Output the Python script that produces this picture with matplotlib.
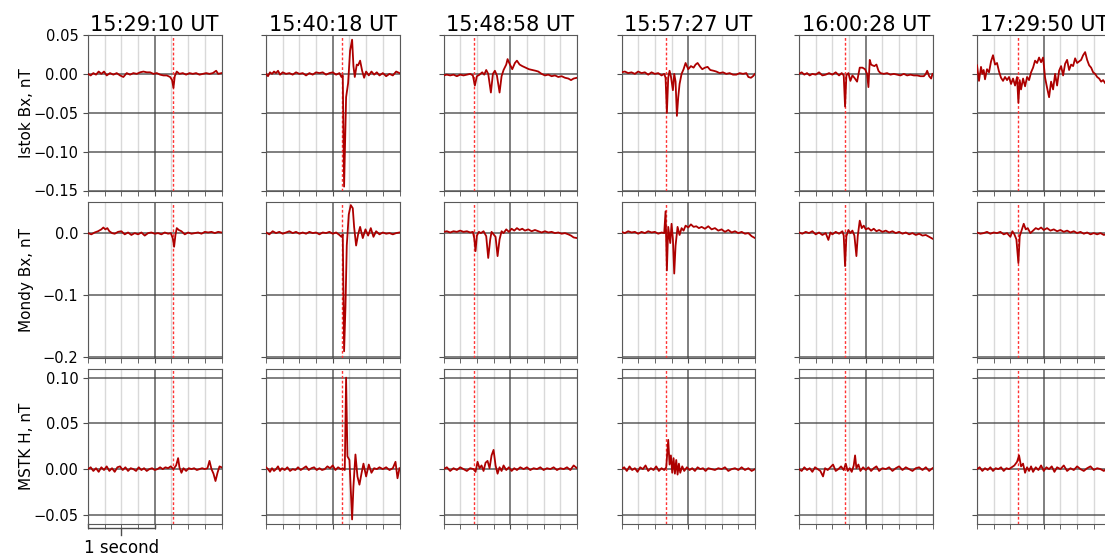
import matplotlib
matplotlib.use("Agg")
import matplotlib.pyplot as plt
import numpy as np

# event titles and event (dashed line) times, seconds from window start
titles = ["15:29:10 UT", "15:40:18 UT", "15:48:58 UT", "15:57:27 UT", "16:00:28 UT", "17:29:50 UT"]
event_t = [1.28, 1.135, 0.46, 0.67, 0.69, 0.61]

row_labels = ["Istok Bx, nT", "Mondy Bx, nT", "MSTK H, nT"]
row_ylim = [(-0.15, 0.05), (-0.2, 0.05), (-0.06, 0.11)]
row_yticks = [[-0.15, -0.10, -0.05, 0.00, 0.05], [-0.2, -0.1, 0.0], [-0.05, 0.00, 0.05, 0.10]]
row_fmt = ["{:.2f}", "{:.1f}", "{:.2f}"]

# ---- Istok Bx, (t [s], value [nT])
istok_1529 = [(0.00, 0.000), (0.04, -0.002), (0.08, 0.001), (0.12, -0.001), (0.16, 0.003), (0.20, 0.000),
              (0.24, 0.003), (0.28, -0.002), (0.33, 0.001), (0.38, -0.001), (0.43, 0.001), (0.48, -0.002),
              (0.53, -0.004), (0.58, 0.001), (0.63, -0.001), (0.68, 0.001), (0.73, 0.000), (0.78, 0.002),
              (0.83, 0.003), (0.88, 0.002), (0.93, 0.002), (0.98, 0.000), (1.03, 0.001), (1.08, -0.001),
              (1.13, -0.002), (1.18, -0.002), (1.23, -0.004), (1.26, -0.008), (1.28, -0.018), (1.30, -0.003),
              (1.33, 0.003), (1.37, 0.000), (1.42, 0.001), (1.47, -0.001), (1.52, 0.001), (1.57, 0.000),
              (1.62, 0.001), (1.67, -0.001), (1.72, 0.000), (1.77, 0.001), (1.82, 0.000), (1.87, 0.001),
              (1.92, 0.004), (1.95, 0.000), (2.00, 0.001)]
istok_1540 = [(0.00, 0.000), (0.03, -0.003), (0.06, 0.002), (0.09, 0.000), (0.12, 0.003), (0.15, 0.001),
              (0.18, 0.004), (0.21, -0.001), (0.25, 0.002), (0.30, 0.000), (0.35, 0.001), (0.40, -0.001),
              (0.45, 0.002), (0.50, 0.000), (0.55, 0.001), (0.60, -0.002), (0.65, 0.001), (0.70, -0.001),
              (0.75, 0.002), (0.80, 0.001), (0.85, 0.002), (0.90, -0.001), (0.95, 0.001), (1.00, 0.002),
              (1.05, -0.001), (1.10, 0.001), (1.13, -0.004), (1.15, -0.002), (1.17, -0.145), (1.20, -0.030),
              (1.23, -0.012), (1.26, 0.030), (1.29, 0.044), (1.31, 0.010), (1.33, -0.004), (1.36, 0.012),
              (1.38, 0.011), (1.41, 0.017), (1.44, 0.004), (1.47, -0.005), (1.50, 0.003), (1.54, -0.002),
              (1.58, 0.003), (1.62, -0.001), (1.66, 0.002), (1.70, -0.002), (1.75, 0.001), (1.80, -0.003),
              (1.85, 0.000), (1.90, -0.002), (1.95, 0.003), (2.00, 0.001)]
istok_1548 = [(0.00, -0.002), (0.05, -0.001), (0.10, -0.002), (0.15, -0.001), (0.20, -0.003), (0.25, -0.001),
              (0.30, -0.002), (0.35, -0.001), (0.40, 0.000), (0.44, -0.002), (0.47, -0.015), (0.50, -0.003),
              (0.54, -0.001), (0.58, 0.002), (0.61, -0.001), (0.64, 0.005), (0.67, 0.000), (0.71, -0.024),
              (0.74, 0.000), (0.77, 0.004), (0.80, -0.002), (0.84, -0.024), (0.87, -0.003), (0.90, 0.005),
              (0.94, 0.012), (0.96, 0.019), (0.99, 0.013), (1.03, 0.006), (1.07, 0.014), (1.10, 0.017),
              (1.14, 0.012), (1.18, 0.010), (1.23, 0.008), (1.28, 0.006), (1.33, 0.005), (1.38, 0.004),
              (1.42, 0.003), (1.47, 0.000), (1.52, -0.002), (1.57, -0.001), (1.62, -0.003), (1.67, -0.002),
              (1.72, -0.004), (1.77, -0.003), (1.82, -0.005), (1.87, -0.006), (1.91, -0.008), (1.95, -0.006),
              (2.00, -0.005)]
istok_1557 = [(0.00, 0.002), (0.05, 0.003), (0.10, 0.001), (0.15, 0.002), (0.20, 0.000), (0.25, 0.003),
              (0.30, 0.001), (0.35, 0.002), (0.40, -0.001), (0.45, 0.002), (0.50, 0.000), (0.55, 0.001),
              (0.60, -0.002), (0.64, 0.000), (0.66, -0.005), (0.68, -0.050), (0.70, -0.005), (0.72, 0.004),
              (0.74, -0.003), (0.77, -0.021), (0.79, 0.000), (0.81, -0.010), (0.83, -0.054), (0.85, -0.030),
              (0.87, -0.013), (0.90, 0.000), (0.93, 0.006), (0.96, 0.014), (1.00, 0.006), (1.04, 0.010),
              (1.08, 0.008), (1.11, 0.012), (1.14, 0.014), (1.18, 0.009), (1.21, 0.006), (1.25, 0.008),
              (1.29, 0.009), (1.33, 0.005), (1.38, 0.004), (1.42, 0.003), (1.47, 0.001), (1.52, 0.002),
              (1.57, 0.000), (1.62, 0.001), (1.67, -0.001), (1.72, -0.001), (1.77, 0.001), (1.82, 0.000),
              (1.87, 0.001), (1.90, -0.004), (1.94, -0.005), (1.97, -0.003), (2.00, 0.000)]
istok_1600 = [(0.00, 0.000), (0.04, 0.002), (0.08, -0.001), (0.12, 0.001), (0.16, -0.002), (0.20, 0.000),
              (0.25, -0.001), (0.30, 0.002), (0.35, -0.002), (0.40, -0.001), (0.45, 0.001), (0.50, -0.001),
              (0.55, 0.002), (0.60, -0.002), (0.64, 0.001), (0.67, -0.002), (0.69, -0.042), (0.71, -0.002),
              (0.74, 0.001), (0.77, -0.009), (0.80, -0.002), (0.83, -0.005), (0.87, -0.010), (0.91, 0.008),
              (0.95, 0.008), (0.99, 0.006), (1.02, 0.000), (1.04, -0.017), (1.06, 0.018), (1.08, 0.012),
              (1.10, 0.011), (1.13, 0.010), (1.16, 0.012), (1.19, 0.004), (1.22, 0.001), (1.27, 0.000),
              (1.32, 0.001), (1.37, -0.001), (1.42, 0.000), (1.47, -0.001), (1.52, -0.002), (1.57, 0.000),
              (1.62, -0.002), (1.67, -0.001), (1.72, -0.002), (1.77, -0.002), (1.82, -0.003), (1.87, -0.003),
              (1.90, 0.000), (1.92, 0.004), (1.95, -0.003), (1.98, -0.006), (2.00, 0.000)]
istok_1729 = [(0.00, 0.011), (0.03, -0.009), (0.06, 0.009), (0.08, 0.000), (0.10, 0.005), (0.12, -0.007),
              (0.15, 0.006), (0.18, 0.002), (0.21, 0.016), (0.24, 0.024), (0.27, 0.012), (0.30, 0.014),
              (0.33, 0.003), (0.36, -0.005), (0.39, -0.009), (0.42, -0.004), (0.45, -0.008), (0.48, -0.004),
              (0.51, -0.013), (0.54, -0.006), (0.57, -0.015), (0.60, -0.004), (0.62, -0.037), (0.64, -0.008),
              (0.66, -0.020), (0.69, -0.006), (0.72, -0.016), (0.75, -0.004), (0.78, -0.008), (0.81, 0.002),
              (0.84, 0.008), (0.87, 0.017), (0.90, 0.014), (0.93, 0.021), (0.96, 0.015), (0.99, 0.021),
              (1.02, -0.005), (1.05, -0.018), (1.08, -0.030), (1.11, -0.010), (1.14, -0.020), (1.17, 0.000),
              (1.20, -0.015), (1.23, 0.004), (1.26, 0.010), (1.29, -0.002), (1.32, 0.013), (1.35, 0.018),
              (1.38, 0.005), (1.41, 0.012), (1.44, 0.010), (1.47, 0.020), (1.50, 0.014), (1.53, 0.016),
              (1.56, 0.018), (1.59, 0.024), (1.62, 0.028), (1.65, 0.018), (1.68, 0.011), (1.71, 0.008),
              (1.74, 0.002), (1.77, 0.000), (1.80, -0.004), (1.83, -0.006), (1.86, -0.010), (1.89, -0.008),
              (1.92, -0.012), (1.96, -0.006), (2.00, -0.004)]

# ---- Mondy Bx
mondy_1529 = [(0.00, 0.000), (0.05, -0.002), (0.10, 0.001), (0.15, 0.003), (0.20, 0.006), (0.23, 0.009),
              (0.26, 0.006), (0.29, 0.008), (0.32, 0.003), (0.36, 0.000), (0.40, -0.001), (0.45, 0.002),
              (0.50, 0.003), (0.55, -0.002), (0.60, 0.001), (0.65, -0.003), (0.70, 0.000), (0.75, -0.002),
              (0.80, 0.001), (0.85, -0.004), (0.90, 0.000), (0.95, 0.001), (1.00, -0.001), (1.05, 0.000),
              (1.10, -0.002), (1.15, 0.001), (1.20, -0.001), (1.24, 0.000), (1.27, -0.008), (1.29, -0.022),
              (1.31, -0.003), (1.33, 0.008), (1.36, 0.005), (1.40, 0.003), (1.45, -0.002), (1.50, 0.001),
              (1.55, -0.001), (1.60, 0.000), (1.65, 0.001), (1.70, -0.001), (1.75, 0.002), (1.80, 0.001),
              (1.85, 0.002), (1.90, 0.000), (1.95, 0.002), (2.00, 0.001)]
mondy_1540 = [(0.00, 0.001), (0.05, -0.002), (0.10, 0.003), (0.15, 0.000), (0.20, 0.002), (0.25, -0.001),
              (0.30, 0.001), (0.35, 0.003), (0.40, 0.000), (0.45, 0.002), (0.50, -0.001), (0.55, 0.001),
              (0.60, -0.001), (0.65, 0.002), (0.70, 0.000), (0.75, 0.001), (0.80, -0.002), (0.85, 0.001),
              (0.90, 0.000), (0.95, 0.002), (1.00, -0.001), (1.05, 0.001), (1.10, -0.003), (1.13, -0.006),
              (1.15, -0.002), (1.17, -0.190), (1.19, -0.120), (1.21, -0.020), (1.24, 0.030), (1.27, 0.045),
              (1.30, 0.040), (1.32, 0.010), (1.35, -0.020), (1.38, -0.002), (1.41, 0.010), (1.45, -0.008),
              (1.49, 0.006), (1.53, -0.004), (1.57, 0.008), (1.61, -0.006), (1.65, 0.003), (1.70, -0.002),
              (1.75, 0.001), (1.80, -0.001), (1.85, 0.000), (1.90, -0.002), (1.95, 0.000), (2.00, 0.001)]
mondy_1548 = [(0.00, 0.002), (0.05, 0.003), (0.10, 0.001), (0.15, 0.003), (0.20, 0.002), (0.25, 0.004),
              (0.30, 0.002), (0.35, 0.003), (0.40, 0.001), (0.44, 0.002), (0.46, -0.008), (0.48, -0.029),
              (0.50, -0.004), (0.53, 0.002), (0.56, 0.000), (0.60, 0.003), (0.64, -0.005), (0.67, -0.040),
              (0.70, -0.010), (0.72, 0.002), (0.75, -0.002), (0.78, -0.006), (0.81, -0.037), (0.84, -0.010),
              (0.87, 0.003), (0.90, 0.000), (0.94, 0.006), (0.98, 0.002), (1.02, 0.007), (1.06, 0.004),
              (1.10, 0.008), (1.14, 0.005), (1.18, 0.007), (1.22, 0.004), (1.27, 0.006), (1.32, 0.003),
              (1.37, 0.005), (1.42, 0.003), (1.47, 0.001), (1.52, 0.003), (1.57, 0.001), (1.62, 0.002),
              (1.67, 0.000), (1.72, 0.001), (1.77, -0.001), (1.82, 0.000), (1.87, -0.002), (1.91, -0.004),
              (1.95, -0.007), (2.00, -0.008)]
mondy_1557 = [(0.00, 0.002), (0.05, 0.000), (0.10, 0.003), (0.15, 0.001), (0.20, 0.002), (0.25, -0.001),
              (0.30, 0.002), (0.35, 0.000), (0.40, 0.003), (0.45, 0.001), (0.50, 0.002), (0.55, -0.001),
              (0.60, 0.001), (0.64, 0.000), (0.66, 0.035), (0.68, -0.060), (0.70, 0.010), (0.73, -0.016),
              (0.75, 0.015), (0.77, -0.010), (0.79, -0.065), (0.81, -0.020), (0.84, 0.010), (0.87, -0.003),
              (0.90, 0.008), (0.93, 0.004), (0.96, 0.012), (1.00, 0.009), (1.04, 0.014), (1.08, 0.010),
              (1.12, 0.011), (1.16, 0.008), (1.20, 0.010), (1.25, 0.007), (1.30, 0.011), (1.35, 0.006),
              (1.40, 0.008), (1.45, 0.004), (1.50, 0.006), (1.55, 0.002), (1.60, 0.005), (1.65, 0.001),
              (1.70, 0.003), (1.75, 0.000), (1.80, 0.002), (1.85, -0.001), (1.90, 0.000), (1.95, -0.005),
              (2.00, -0.008)]
mondy_1600 = [(0.00, 0.001), (0.05, -0.001), (0.10, 0.002), (0.15, 0.000), (0.20, 0.003), (0.25, -0.002),
              (0.30, 0.001), (0.35, -0.003), (0.40, 0.000), (0.44, -0.011), (0.47, 0.001), (0.50, -0.002),
              (0.55, 0.002), (0.60, -0.001), (0.65, 0.003), (0.67, -0.004), (0.69, -0.053), (0.71, -0.005),
              (0.74, 0.005), (0.77, 0.000), (0.80, 0.004), (0.83, -0.004), (0.86, -0.037), (0.88, -0.005),
              (0.91, 0.020), (0.94, 0.008), (0.97, 0.012), (1.00, 0.006), (1.04, 0.008), (1.08, 0.004),
              (1.12, 0.007), (1.16, 0.003), (1.20, 0.005), (1.25, 0.002), (1.30, 0.004), (1.35, 0.001),
              (1.40, 0.003), (1.45, 0.000), (1.50, 0.002), (1.55, -0.001), (1.60, 0.001), (1.65, -0.002),
              (1.70, 0.000), (1.75, -0.003), (1.80, -0.001), (1.85, -0.004), (1.90, -0.003), (1.95, -0.006),
              (2.00, -0.009)]
mondy_1729 = [(0.00, 0.001), (0.05, -0.001), (0.10, 0.000), (0.15, 0.002), (0.20, -0.001), (0.25, 0.001),
              (0.30, 0.000), (0.35, 0.002), (0.40, -0.002), (0.45, 0.000), (0.50, -0.006), (0.53, 0.003),
              (0.56, -0.002), (0.59, -0.010), (0.62, -0.048), (0.64, -0.005), (0.67, 0.005), (0.70, 0.015),
              (0.73, 0.006), (0.76, 0.008), (0.80, 0.000), (0.84, 0.004), (0.88, 0.008), (0.92, 0.006),
              (0.96, 0.009), (1.00, 0.005), (1.05, 0.008), (1.10, 0.004), (1.15, 0.006), (1.20, 0.003),
              (1.25, 0.005), (1.30, 0.002), (1.35, 0.004), (1.40, 0.001), (1.45, 0.003), (1.50, 0.000),
              (1.55, 0.002), (1.60, -0.001), (1.65, 0.001), (1.70, -0.002), (1.75, 0.000), (1.80, -0.002),
              (1.85, 0.000), (1.90, -0.003), (1.95, -0.001), (2.00, -0.002)]

# ---- MSTK H
mstk_1529 = [(0.00, 0.000), (0.04, 0.002), (0.08, -0.002), (0.12, 0.001), (0.16, -0.003), (0.20, 0.002),
             (0.24, -0.001), (0.28, 0.003), (0.32, -0.002), (0.36, 0.001), (0.40, -0.003), (0.44, 0.002),
             (0.48, 0.003), (0.52, -0.001), (0.56, 0.002), (0.60, -0.002), (0.64, 0.001), (0.68, 0.000),
             (0.72, -0.002), (0.76, 0.002), (0.80, -0.001), (0.84, 0.001), (0.88, -0.002), (0.92, 0.000),
             (0.96, 0.001), (1.00, -0.001), (1.04, 0.000), (1.08, 0.002), (1.12, 0.000), (1.16, 0.002),
             (1.20, 0.001), (1.24, 0.003), (1.28, 0.000), (1.32, 0.004), (1.35, 0.012), (1.37, 0.002),
             (1.40, -0.004), (1.43, 0.001), (1.47, -0.002), (1.51, 0.001), (1.55, 0.000), (1.59, 0.001),
             (1.63, -0.001), (1.67, 0.000), (1.71, 0.001), (1.75, 0.000), (1.79, 0.001), (1.82, 0.009),
             (1.85, 0.000), (1.88, -0.005), (1.91, -0.013), (1.94, -0.004), (1.97, 0.003), (2.00, 0.002)]
mstk_1540 = [(0.00, 0.002), (0.03, 0.000), (0.06, -0.003), (0.09, 0.001), (0.12, -0.002), (0.15, 0.000),
             (0.18, 0.003), (0.21, -0.002), (0.24, 0.001), (0.28, -0.001), (0.32, 0.002), (0.36, -0.002),
             (0.40, 0.000), (0.44, -0.001), (0.48, 0.002), (0.52, -0.001), (0.56, 0.001), (0.60, 0.003),
             (0.64, -0.001), (0.68, 0.001), (0.72, 0.002), (0.76, -0.001), (0.80, 0.001), (0.84, -0.001),
             (0.88, 0.000), (0.92, 0.003), (0.96, 0.001), (1.00, 0.004), (1.04, -0.001), (1.08, 0.002),
             (1.12, 0.000), (1.15, 0.001), (1.18, -0.001), (1.20, 0.100), (1.22, 0.014), (1.25, 0.010),
             (1.29, -0.055), (1.31, -0.019), (1.34, 0.016), (1.37, -0.008), (1.40, -0.017), (1.43, -0.005),
             (1.46, 0.006), (1.50, -0.008), (1.54, 0.005), (1.58, -0.004), (1.62, 0.001), (1.66, 0.000),
             (1.70, 0.002), (1.75, 0.000), (1.80, 0.002), (1.85, -0.001), (1.90, 0.001), (1.94, 0.008),
             (1.97, -0.010), (2.00, 0.001)]
mstk_1548 = [(0.00, 0.000), (0.05, 0.002), (0.10, -0.002), (0.15, 0.001), (0.20, -0.001), (0.25, 0.002),
             (0.30, 0.000), (0.35, -0.002), (0.40, 0.001), (0.45, 0.000), (0.48, -0.003), (0.51, 0.008),
             (0.54, 0.001), (0.57, 0.004), (0.60, -0.002), (0.63, 0.007), (0.66, 0.009), (0.69, 0.001),
             (0.72, 0.015), (0.75, 0.021), (0.78, 0.004), (0.81, -0.005), (0.84, 0.002), (0.87, -0.002),
             (0.90, 0.004), (0.94, -0.001), (0.98, 0.002), (1.02, -0.002), (1.06, 0.001), (1.10, -0.001),
             (1.15, 0.002), (1.20, 0.000), (1.25, 0.002), (1.30, -0.001), (1.35, 0.001), (1.40, 0.000),
             (1.45, 0.002), (1.50, -0.001), (1.55, 0.001), (1.60, 0.000), (1.65, 0.002), (1.70, -0.001),
             (1.75, 0.001), (1.80, 0.000), (1.85, 0.002), (1.90, -0.001), (1.95, 0.004), (2.00, 0.001)]
mstk_1557 = [(0.00, 0.000), (0.04, 0.002), (0.08, -0.002), (0.12, 0.003), (0.16, -0.001), (0.20, 0.001),
             (0.24, -0.003), (0.28, 0.002), (0.32, 0.000), (0.36, 0.004), (0.40, -0.002), (0.44, 0.001),
             (0.48, -0.001), (0.52, 0.003), (0.56, -0.002), (0.60, 0.001), (0.64, -0.001), (0.67, 0.002),
             (0.70, 0.032), (0.72, 0.005), (0.74, 0.015), (0.76, -0.004), (0.78, 0.012), (0.80, -0.005),
             (0.82, 0.010), (0.84, -0.006), (0.86, 0.006), (0.88, -0.004), (0.91, 0.003), (0.94, -0.002),
             (0.98, 0.002), (1.02, -0.001), (1.06, 0.001), (1.10, -0.002), (1.14, 0.002), (1.18, 0.000),
             (1.22, 0.001), (1.26, -0.002), (1.30, 0.001), (1.35, 0.000), (1.40, -0.001), (1.45, 0.001),
             (1.50, 0.000), (1.55, 0.002), (1.60, -0.002), (1.65, 0.000), (1.70, 0.001), (1.75, -0.001),
             (1.80, 0.002), (1.85, -0.001), (1.90, 0.001), (1.95, -0.002), (2.00, 0.000)]
mstk_1600 = [(0.00, 0.000), (0.04, -0.002), (0.08, 0.002), (0.12, -0.001), (0.16, 0.001), (0.20, -0.003),
             (0.24, 0.002), (0.28, 0.000), (0.32, -0.002), (0.36, -0.008), (0.39, 0.001), (0.43, -0.001),
             (0.47, 0.002), (0.51, 0.005), (0.55, -0.002), (0.59, 0.000), (0.63, 0.003), (0.67, -0.001),
             (0.70, 0.006), (0.73, -0.002), (0.76, 0.001), (0.79, -0.003), (0.82, 0.004), (0.84, 0.015),
             (0.86, 0.001), (0.89, 0.005), (0.92, -0.002), (0.96, 0.002), (1.00, -0.001), (1.04, 0.002),
             (1.08, -0.002), (1.12, 0.001), (1.16, 0.003), (1.20, -0.002), (1.25, 0.001), (1.30, 0.000),
             (1.35, 0.002), (1.40, -0.002), (1.45, 0.001), (1.50, 0.003), (1.55, -0.001), (1.60, 0.002),
             (1.65, 0.000), (1.70, -0.002), (1.75, 0.001), (1.80, 0.002), (1.85, -0.001), (1.90, 0.002),
             (1.95, -0.002), (2.00, 0.001)]
mstk_1729 = [(0.00, 0.000), (0.04, 0.002), (0.08, -0.002), (0.12, 0.001), (0.16, -0.001), (0.20, 0.002),
             (0.24, -0.002), (0.28, 0.001), (0.32, 0.000), (0.36, 0.002), (0.40, -0.002), (0.44, 0.001),
             (0.48, 0.000), (0.52, 0.002), (0.56, 0.004), (0.60, 0.008), (0.63, 0.015), (0.66, 0.003),
             (0.69, 0.006), (0.72, -0.004), (0.75, 0.002), (0.78, -0.002), (0.81, 0.003), (0.84, -0.003),
             (0.88, 0.002), (0.92, -0.001), (0.96, 0.004), (1.00, -0.002), (1.04, 0.002), (1.08, 0.000),
             (1.12, 0.003), (1.16, -0.003), (1.20, 0.002), (1.25, 0.000), (1.30, 0.004), (1.35, -0.002),
             (1.40, 0.001), (1.45, -0.001), (1.50, 0.003), (1.55, 0.000), (1.60, -0.002), (1.65, 0.001),
             (1.70, 0.003), (1.75, -0.001), (1.80, 0.001), (1.85, 0.000), (1.90, -0.002), (1.95, 0.001),
             (2.00, 0.000)]

traces = [
    [istok_1529, istok_1540, istok_1548, istok_1557, istok_1600, istok_1729],
    [mondy_1529, mondy_1540, mondy_1548, mondy_1557, mondy_1600, mondy_1729],
    [mstk_1529, mstk_1540, mstk_1548, mstk_1557, mstk_1600, mstk_1729],
]

# layout in pixels (figure is 1105 x 560)
W, H = 1105, 560
col_left = [88, 266, 443.5, 621.5, 799, 977]
row_top = [35, 202, 368.5]
ax_w, ax_h = 133.5, 155.5

fig = plt.figure(figsize=(W / 100, H / 100), dpi=100)

for r in range(3):
    for c in range(6):
        x0 = col_left[c] / W
        y0 = 1 - (row_top[r] + ax_h) / H
        ax = fig.add_axes([x0, y0, ax_w / W, ax_h / H])

        t, v = zip(*traces[r][c])
        ax.plot(t, v, color="#ad0000", lw=1.3, zorder=3)
        ax.axvline(event_t[c], color="#ff3333", ls=(0, (2, 1.5)), lw=1.0, zorder=2)

        ax.set_xlim(0, 2)
        ax.set_ylim(*row_ylim[r])
        ax.set_xticks([1.0])
        ax.set_xticks(np.arange(0, 2.01, 0.25), minor=True)
        ax.set_yticks(row_yticks[r])
        ax.grid(which="major", color="0.25", lw=1.1, alpha=0.85, zorder=1)
        ax.grid(which="minor", axis="x", color="0.85", lw=1.0, zorder=1)
        ax.tick_params(which="both", direction="out", length=3.5, color="0.3",
                       labelbottom=False, labelsize=10.5)
        for sp in ax.spines.values():
            sp.set_color("0.35")
        if c == 0:
            ax.set_yticklabels([row_fmt[r].format(y).replace("-", "\u2212") for y in row_yticks[r]])
            ax.set_ylabel(row_labels[r], fontsize=11)
            ax.yaxis.set_label_coords(-0.405, 0.5)
        else:
            ax.set_yticklabels([])
        if r == 0:
            ax.set_title(titles[c], fontsize=15, pad=3)

        # 1 second scale bar under the first bottom panel
        if r == 2 and c == 0:
            tr = ax.get_xaxis_transform()
            ax.plot([0, 0, 1, 1], [0, -0.026, -0.026, 0], color="0.3", lw=1.0,
                    transform=tr, clip_on=False)
            ax.plot([0.5, 0.5], [-0.026, -0.07], color="0.3", lw=1.0,
                    transform=tr, clip_on=False)
            ax.text(0.5, -0.095, "1 second", transform=tr, ha="center", va="top", fontsize=12)

fig.savefig("out.png", dpi=100)
